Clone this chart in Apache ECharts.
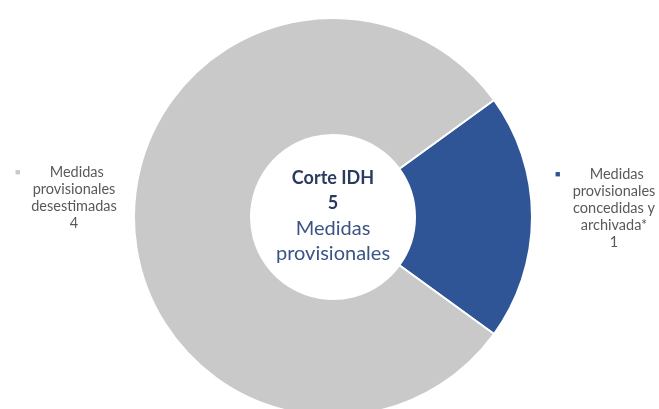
<!DOCTYPE html>
<html>
<head>
<meta charset="utf-8">
<script src="https://cdn.jsdelivr.net/npm/echarts@6/dist/echarts.min.js"></script>
<style>
html,body{margin:0;padding:0;background:#fff;}
#main{width:659px;height:409px;}
</style>
</head>
<body>
<div id="main"></div>
<script>
// datos del gráfico
var categorias = ['Medidas\nprovisionales\nconcedidas y\narchivada*', 'Medidas\nprovisionales\ndesestimadas'];
var valores = [1, 4];
var colores = ['#2f5597', '#c9c9c9'];
var total = 5;
var tituloCentro = 'Corte IDH';
var subtituloCentro = 'Medidas\nprovisionales';

// posición de cada etiqueta (esquina superior izquierda del bloque)
var posEtiquetas = [[555, 166], [15, 164]];

var myChart = echarts.init(document.getElementById('main'));
var option = {
    animation: false,
    graphic: [{
        type: 'text', x: 333, y: 166,
        style: {
            text: '{b|' + tituloCentro + '}\n{b|' + total + '}\n' +
                subtituloCentro.split('\n').map(function (t) { return '{r|' + t + '}'; }).join('\n'),
            align: 'center',
            rich: {
                b: {fontFamily: 'Lato', fontSize: 18, fontWeight: 'bold', fill: '#2a3b5e', color: '#2a3b5e', lineHeight: 25, align: 'center'},
                r: {fontFamily: 'Lato', fontSize: 20, fill: '#3b5485', color: '#3b5485', lineHeight: 25, align: 'center'}
            }
        }
    }],
    series: [{
        type: 'pie',
        center: [333, 217],
        radius: [82, 199],
        startAngle: 36,
        clockwise: true,
        itemStyle: {borderColor: '#fff', borderWidth: 2},
        labelLine: {show: false},
        label: {
            show: true,
            formatter: function (p) {
                var lineas = p.name.split('\n');
                var s = '{m' + p.dataIndex + '|■}{c|' + lineas[0] + '}';
                for (var i = 1; i < lineas.length; i++) s += '\n{c|' + lineas[i] + '}';
                s += '\n{c|' + p.value + '}';
                return s;
            },
            width: 118,
            fontFamily: 'Lato', fontSize: 14.5, color: '#595959', lineHeight: 17,
            rich: {
                m0: {align: 'left', color: colores[0], fontSize: 9, lineHeight: 17},
                m1: {align: 'left', color: colores[1], fontSize: 9, lineHeight: 17},
                c: {align: 'center', fontFamily: 'Lato', fontSize: 14.5, color: '#595959', lineHeight: 17}
            }
        },
        labelLayout: function (p) {
            var pos = posEtiquetas[p.dataIndex];
            return {x: pos[0], y: pos[1], align: 'left', verticalAlign: 'top'};
        },
        data: valores.map(function (v, i) {
            return {name: categorias[i], value: v, itemStyle: {color: colores[i]}};
        })
    }]
};
myChart.setOption(option);
</script>
</body>
</html>
